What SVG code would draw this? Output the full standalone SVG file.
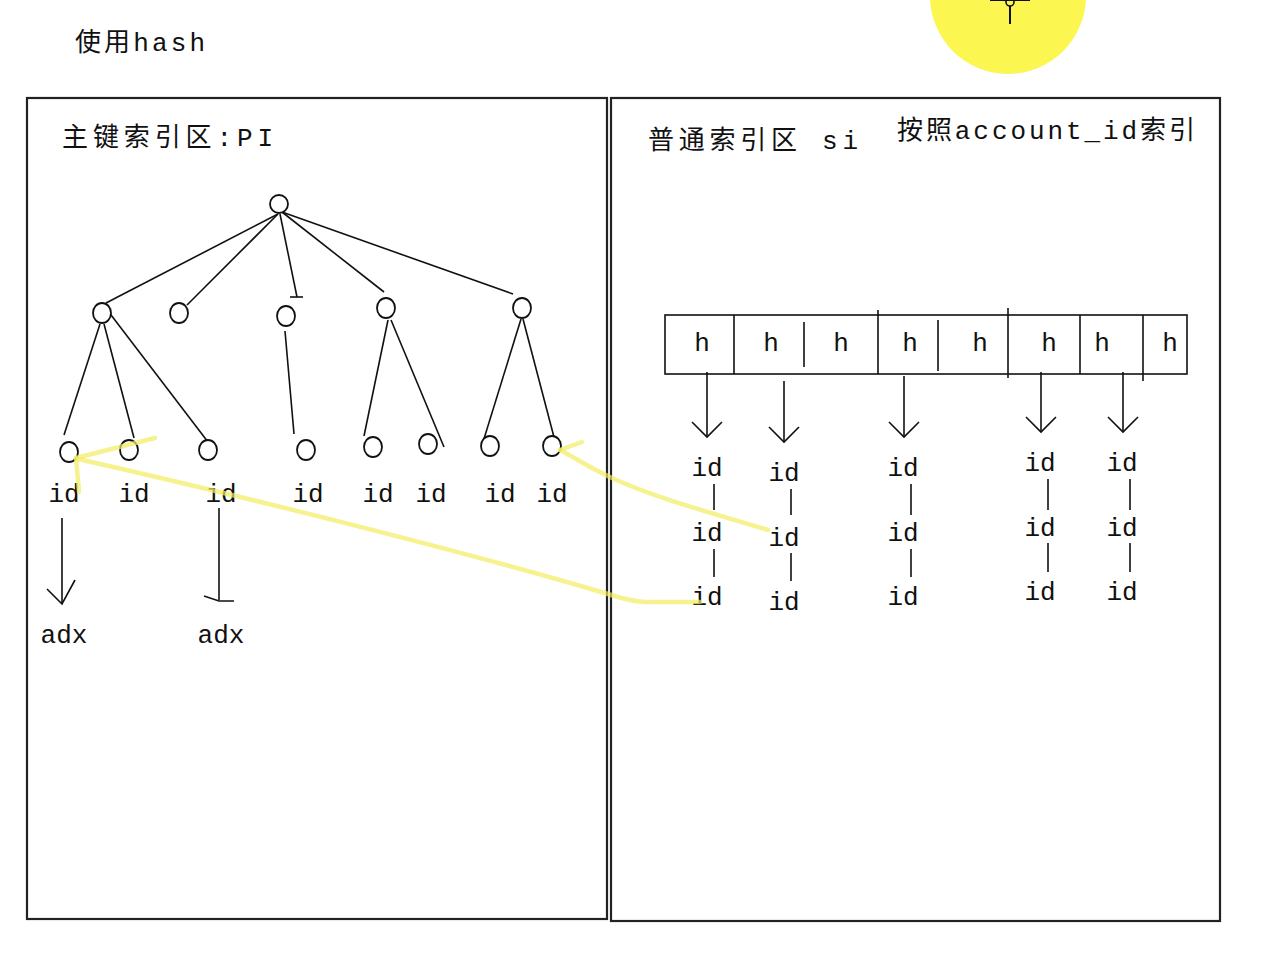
<svg xmlns="http://www.w3.org/2000/svg" width="1280" height="960" viewBox="0 0 1280 960">
<style>
.t{font-family:"Liberation Mono","Noto Sans CJK SC",monospace;fill:#111;}
.lbl{font-size:26px;}
.id{font-size:26px;text-anchor:middle;}
.h{font-size:26px;text-anchor:middle;}
.ln{stroke:#111;stroke-width:1.6;fill:none;}
.box{stroke:#222;stroke-width:2.2;fill:none;}
.nd{stroke:#111;stroke-width:1.8;fill:#fff;}
.hl{stroke:#f2ec60;stroke-opacity:0.7;stroke-width:4.5;fill:none;stroke-linecap:round;stroke-linejoin:round;}
</style>
<rect width="1280" height="960" fill="#fff"/>
<g id="highlight-top">
<circle cx="1008" cy="-4" r="78" fill="#fbf650"/>
<line x1="990" y1="0" x2="1030" y2="0" stroke="#111" stroke-width="2"/>
<circle cx="1010" cy="2" r="4" fill="none" stroke="#111" stroke-width="1.6"/>
<line x1="1010" y1="6" x2="1010" y2="24" stroke="#111" stroke-width="2"/>
</g>
<text class="t lbl" x="75" y="51" textLength="130" lengthAdjust="spacing">使用hash</text>
<g id="pi-box">
<rect class="box" x="27" y="98" width="580" height="821"/>
<text class="t lbl" x="62" y="146" textLength="211" lengthAdjust="spacing">主键索引区:PI</text>
</g>
<g id="si-box">
<rect class="box" x="611" y="98" width="609" height="823"/>
<text class="t lbl" x="648" y="149" textLength="210" lengthAdjust="spacing">普通索引区 si</text>
<text class="t lbl" x="897" y="139" textLength="298" lengthAdjust="spacing">按照account_id索引</text>
</g>
<g id="connectors">
<g id="tree-edges">
<line class="ln" x1="278" y1="214" x2="106" y2="303" stroke-width="2.2"/>
<line class="ln" x1="278" y1="214" x2="187" y2="305"/>
<line class="ln" x1="280" y1="214" x2="297" y2="297"/>
<line class="ln" x1="290" y1="297" x2="303" y2="297"/>
<line class="ln" x1="282" y1="212" x2="384" y2="292"/>
<line class="ln" x1="282" y1="212" x2="513" y2="294" stroke-width="2"/>
<line class="ln" x1="100" y1="324" x2="64" y2="435"/>
<line class="ln" x1="104" y1="324" x2="134" y2="438"/>
<line class="ln" x1="108" y1="311" x2="208" y2="442"/>
<line class="ln" x1="285" y1="331" x2="294" y2="434"/>
<line class="ln" x1="388" y1="320" x2="364" y2="436"/>
<line class="ln" x1="391" y1="320" x2="444" y2="447"/>
<line class="ln" x1="521" y1="319" x2="483" y2="442"/>
<line class="ln" x1="523" y1="319" x2="555" y2="441"/>
</g>
<g id="adx-arrows">
<line class="ln" x1="62" y1="518" x2="62" y2="604"/>
<polyline class="ln" points="47,589 62,604 75,580"/>
<line class="ln" x1="219" y1="508" x2="219" y2="600"/>
<polyline class="ln" points="204,596 219,601 234,601"/>
</g>
<g id="hash-arrows">
<line class="ln" x1="707" y1="372" x2="707" y2="437"/>
<polyline class="ln" points="692,422 707,437 722,422"/>
<line class="ln" x1="784" y1="381" x2="784" y2="442"/>
<polyline class="ln" points="769,427 784,442 799,427"/>
<line class="ln" x1="904" y1="376" x2="904" y2="437"/>
<polyline class="ln" points="889,422 904,437 919,422"/>
<line class="ln" x1="1041" y1="372" x2="1041" y2="432"/>
<polyline class="ln" points="1026,417 1041,432 1056,417"/>
<line class="ln" x1="1123" y1="372" x2="1123" y2="432"/>
<polyline class="ln" points="1108,417 1123,432 1138,417"/>
</g>
<g id="chain-links">
<line class="ln" x1="714" y1="484" x2="714" y2="510"/>
<line class="ln" x1="714" y1="549" x2="714" y2="577"/>
<line class="ln" x1="791" y1="489" x2="791" y2="515"/>
<line class="ln" x1="791" y1="553" x2="791" y2="581"/>
<line class="ln" x1="911" y1="484" x2="911" y2="515"/>
<line class="ln" x1="911" y1="549" x2="911" y2="577"/>
<line class="ln" x1="1048" y1="479" x2="1048" y2="510"/>
<line class="ln" x1="1048" y1="543" x2="1048" y2="572"/>
<line class="ln" x1="1130" y1="479" x2="1130" y2="510"/>
<line class="ln" x1="1130" y1="543" x2="1130" y2="572"/>
</g>
</g>
<g id="tree-nodes">
<circle id="root" class="nd" cx="279" cy="204" r="9"/>
<ellipse class="nd" cx="102" cy="313" rx="9" ry="10"/>
<ellipse class="nd" cx="179" cy="313" rx="9" ry="10"/>
<ellipse class="nd" cx="286" cy="316" rx="9" ry="10"/>
<ellipse class="nd" cx="386" cy="308" rx="9" ry="10"/>
<ellipse class="nd" cx="522" cy="308" rx="9" ry="10"/>
<ellipse class="nd" cx="69" cy="452" rx="9" ry="10"/>
<ellipse class="nd" cx="129" cy="450" rx="9" ry="10"/>
<ellipse class="nd" cx="208" cy="450" rx="9" ry="10"/>
<ellipse class="nd" cx="306" cy="450" rx="9" ry="10"/>
<ellipse class="nd" cx="373" cy="447" rx="9" ry="10"/>
<ellipse class="nd" cx="428" cy="444" rx="9" ry="10"/>
<ellipse class="nd" cx="490" cy="446" rx="9" ry="10"/>
<ellipse class="nd" cx="552" cy="446" rx="9" ry="10"/>
</g>
<g id="leaf-ids">
<text class="t id" x="64" y="502">id</text>
<text class="t id" x="134" y="502">id</text>
<text class="t id" x="221" y="502">id</text>
<text class="t id" x="308" y="502">id</text>
<text class="t id" x="378" y="502">id</text>
<text class="t id" x="431" y="502">id</text>
<text class="t id" x="500" y="502">id</text>
<text class="t id" x="552" y="502">id</text>
<text class="t id" x="64" y="643">adx</text>
<text class="t id" x="221" y="643">adx</text>
</g>
<g id="hash-table">
<rect class="ln" x="665" y="315" width="522" height="59" stroke-width="2"/>
<line class="ln" x1="734" y1="315" x2="734" y2="374" stroke-width="2"/>
<line class="ln" x1="804" y1="322" x2="804" y2="367" stroke-width="2"/>
<line class="ln" x1="878" y1="310" x2="878" y2="374" stroke-width="2"/>
<line class="ln" x1="938" y1="320" x2="938" y2="371" stroke-width="2"/>
<line class="ln" x1="1008" y1="308" x2="1008" y2="378" stroke-width="2"/>
<line class="ln" x1="1080" y1="315" x2="1080" y2="374" stroke-width="2"/>
<line class="ln" x1="1143" y1="315" x2="1143" y2="381" stroke-width="2"/>
<text class="t h" x="702" y="351">h</text>
<text class="t h" x="771" y="351">h</text>
<text class="t h" x="841" y="351">h</text>
<text class="t h" x="910" y="351">h</text>
<text class="t h" x="980" y="351">h</text>
<text class="t h" x="1049" y="351">h</text>
<text class="t h" x="1102" y="351">h</text>
<text class="t h" x="1170" y="351">h</text>
</g>
<g id="id-chains">
<text class="t id" x="707" y="476">id</text>
<text class="t id" x="707" y="541">id</text>
<text class="t id" x="707" y="605">id</text>
<text class="t id" x="784" y="481">id</text>
<text class="t id" x="784" y="546">id</text>
<text class="t id" x="784" y="610">id</text>
<text class="t id" x="903" y="476">id</text>
<text class="t id" x="903" y="541">id</text>
<text class="t id" x="903" y="605">id</text>
<text class="t id" x="1040" y="471">id</text>
<text class="t id" x="1040" y="536">id</text>
<text class="t id" x="1040" y="600">id</text>
<text class="t id" x="1122" y="471">id</text>
<text class="t id" x="1122" y="536">id</text>
<text class="t id" x="1122" y="600">id</text>
</g>
<g id="yellow-links">
<path class="hl" d="M768,530 C720,515 660,500 612,478 C590,468 575,458 560,450"/>
<path class="hl" d="M560,450 L582,442"/>
<path class="hl" d="M700,602 L645,602 C630,601 620,598 608,594 C480,556 260,500 78,459"/>
<path class="hl" d="M76,458 L155,438"/>
<path class="hl" d="M76,458 L79,492"/>
</g>
</svg>
